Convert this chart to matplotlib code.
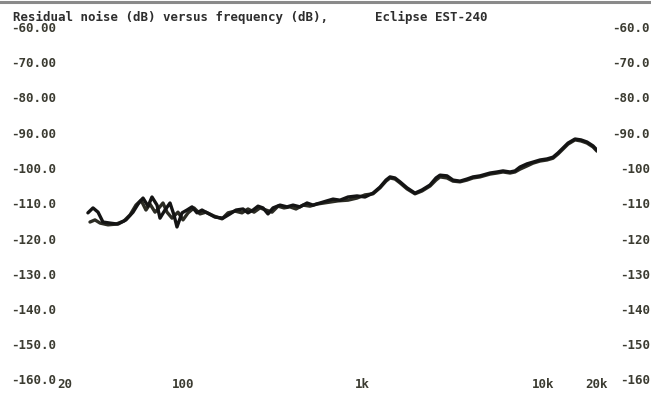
import matplotlib
matplotlib.use('Agg')
import matplotlib.pyplot as plt
from matplotlib.transforms import blended_transform_factory
from matplotlib.lines import Line2D

# Channel A (Hz, dB)
freq_a = [29.7, 31.7, 33.8, 36.0, 39.4, 43.6, 48.3, 52.9, 56.4, 60.1, 64.1, 67.4, 71.9, 74.7,
          79.6, 84.9, 89.3, 92.8, 99.0, 105.5, 112.5, 119.9, 127.8, 136.3, 150.9, 167.2, 182.9,
          197.5, 216.0, 230.2, 245.5, 261.7, 278.9, 297.3, 317.0, 346.8, 379.2, 409.5, 447.7,
          489.8, 528.7, 578.5, 632.5, 683.0, 746.8, 827.4, 928.4, 1028, 1139, 1246, 1345, 1416,
          1509, 1609, 1760, 1949, 2132, 2362, 2550, 2684, 2936, 3170, 3467, 3792, 4094, 4478,
          5089, 5565, 6010, 6573, 7008, 7468, 8168, 8820, 9647, 10551, 11393, 12148, 12950,
          13806, 15097, 16300, 17599, 19004, 20000]
level_a = [-112.3, -110.9, -112.1, -114.9, -115.2, -115.5, -114.3, -112.1, -109.8, -108.1,
           -110.4, -107.8, -110.1, -113.8, -111.5, -109.5, -112.9, -116.3, -112.3, -111.5,
           -110.6, -112.3, -111.5, -112.3, -113.5, -113.8, -112.6, -111.5, -111.2, -112.3,
           -111.5, -110.4, -110.9, -112.6, -110.9, -110.1, -110.6, -110.1, -110.6, -109.5,
           -110.1, -109.5, -108.9, -108.4, -108.7, -107.8, -107.5, -107.8, -106.7, -105.0,
           -103.0, -102.1, -102.4, -103.5, -105.2, -106.7, -105.8, -104.4, -102.4, -101.6,
           -101.8, -103.0, -103.3, -102.7, -102.1, -101.8, -101.0, -100.7, -100.4, -100.7,
           -100.4, -99.3, -98.4, -97.9, -97.3, -97.0, -96.5, -95.3, -93.9, -92.5, -91.35,
           -91.6, -92.2, -93.3, -94.5]

# Channel B (Hz, dB)
freq_b = [30.5, 32.5, 34.7, 38.4, 42.5, 47.1, 50.9, 54.9, 58.6, 62.4, 65.7, 70.1, 73.7, 77.6,
          81.7, 87.1, 94.0, 100.2, 106.9, 115.4, 124.6, 134.5, 149.0, 165.1, 178.3, 194.9,
          213.2, 230.2, 248.7, 268.4, 289.8, 313.0, 338.1, 364.9, 394.0, 425.4, 465.3, 508.9,
          556.6, 608.6, 665.7, 727.9, 827.4, 928.4, 1028, 1139, 1246, 1345, 1416, 1509, 1609,
          1760, 1949, 2132, 2362, 2550, 2684, 2936, 3170, 3467, 3792, 4094, 4478, 5089, 5565,
          6010, 6573, 7008, 7468, 8168, 8820, 9647, 10551, 11393, 12148, 12950, 13806, 15097,
          16300, 17599, 19004, 20000]
level_b = [-114.9, -114.3, -115.2, -115.7, -115.5, -114.6, -112.9, -110.1, -108.7, -111.5,
           -109.8, -112.1, -110.9, -109.5, -112.1, -113.8, -112.1, -114.3, -112.3, -110.9,
           -112.6, -112.1, -113.2, -114.0, -112.3, -111.8, -112.3, -111.2, -112.1, -110.9,
           -111.5, -112.1, -110.4, -110.9, -110.6, -111.2, -110.1, -110.4, -109.8, -109.5,
           -109.2, -108.9, -108.7, -108.1, -107.2, -106.9, -105.2, -103.3, -102.4, -102.7,
           -103.8, -105.5, -106.9, -106.1, -104.7, -103.0, -102.1, -102.4, -103.3, -103.5,
           -103.0, -102.4, -102.1, -101.3, -101.0, -100.7, -101.0, -100.7, -99.9, -99.0,
           -98.2, -97.6, -97.3, -96.8, -95.6, -94.2, -92.8, -91.6, -91.9, -92.5, -93.6, -94.8]

y_ticks = [-60, -70, -80, -90, -100, -110, -120, -130, -140, -150, -160]
y_labels_left = ['-60.00', '-70.00', '-80.00', '-90.00', '-100.0', '-110.0', '-120.0',
                 '-130.0', '-140.0', '-150.0', '-160.0']
y_labels_right = ['-60.0', '-70.0', '-80.0', '-90.0', '-100', '-110', '-120', '-130',
                  '-140', '-150', '-160']
x_ticks = [20, 100, 1000, 10000, 20000]
x_labels = ['20', '100', '1k', '10k', '20k']

W, H = 651, 395
fig = plt.figure(figsize=(W / 100, H / 100), dpi=100)
ax = fig.add_axes([57 / W, 1 - 381 / H, (597 - 57) / W, (381 - 28.5) / H])
ax.set_xscale('log')
ax.set_xlim(20, 20000)
ax.set_ylim(-160, -60)
ax.axis('off')

ax.plot(freq_b, level_b, color='#2c2c24', lw=2.4, solid_joinstyle='round',
        solid_capstyle='round')
ax.plot(freq_a, level_a, color='#141414', lw=2.4, solid_joinstyle='round',
        solid_capstyle='round')

txt = dict(family='DejaVu Sans Mono', fontweight='bold', fontsize=9, color='#3c3c32')

# y labels on both sides
ylab_tr = blended_transform_factory(fig.transFigure, ax.transData)
for v, l_left, l_right in zip(y_ticks, y_labels_left, y_labels_right):
    ax.text(56.5 / W, v, l_left, transform=ylab_tr, ha='right', va='center', **txt)
    ax.text(650 / W, v, l_right, transform=ylab_tr, ha='right', va='center', **txt)

# x labels sit on the bottom edge
xlab_tr = blended_transform_factory(ax.transData, fig.transFigure)
for f, lab in zip(x_ticks, x_labels):
    ax.text(f, 1 - 385 / H, lab, transform=xlab_tr, ha='left' if f == 20 else 'center',
            va='center', **txt)

fig.text(13 / W, 1 - 17 / H, 'Residual noise (dB) versus frequency (dB),',
         ha='left', va='center', **{**txt, 'color': '#2e2e2e'})
fig.text(375 / W, 1 - 17 / H, 'Eclipse EST-240',
         ha='left', va='center', **{**txt, 'color': '#2e2e2e'})

# grey edge of the scan at the top
fig.add_artist(Line2D([0, 1], [1 - 1.5 / H, 1 - 1.5 / H], transform=fig.transFigure,
                      color='#8a8a8a', lw=2.2))

fig.savefig('out.png', dpi=100, facecolor='white')
